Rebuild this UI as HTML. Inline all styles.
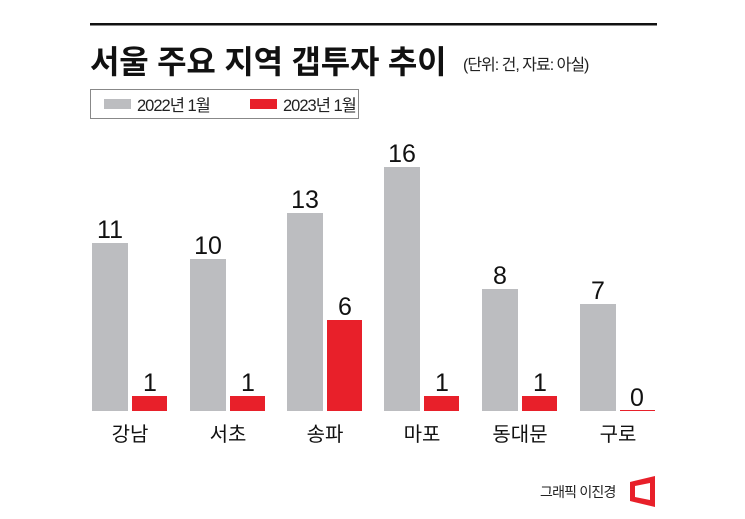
<!DOCTYPE html>
<html><head><meta charset="utf-8"><style>
body{margin:0;width:745px;height:514px;background:#fff;overflow:hidden;font-family:"Liberation Sans","Noto Sans CJK KR",sans-serif;}
</style></head><body>
<svg width="745" height="514" viewBox="0 0 745 514" xmlns="http://www.w3.org/2000/svg" font-family="Liberation Sans, Noto Sans CJK KR, sans-serif">
<rect x="90" y="23" width="567" height="2.5" fill="#111"/>
<text x="90" y="73" font-size="32" font-weight="bold" fill="#111" letter-spacing="-0.2">서울 주요 지역 갭투자 추이</text>
<text x="463" y="70" font-size="16" fill="#222" letter-spacing="-1">(단위: 건, 자료: 아실)</text>
<rect x="90.5" y="89.5" width="268" height="29" fill="#fff" stroke="#888"/>
<rect x="104" y="99" width="27" height="10" fill="#bcbdc0"/>
<text x="137" y="111" font-size="16.5" fill="#222" letter-spacing="-1">2022년 1월</text>
<rect x="250" y="99" width="27" height="10" fill="#e8202a"/>
<text x="283" y="111" font-size="16.5" fill="#222" letter-spacing="-1">2023년 1월</text>
<g fill="#bcbdc0">
<rect x="92" y="243" width="36" height="168"/>
<rect x="190" y="259" width="36" height="152"/>
<rect x="287" y="213" width="36" height="198"/>
<rect x="384" y="167" width="36" height="244"/>
<rect x="482" y="289" width="36" height="122"/>
<rect x="580" y="304" width="36" height="107"/>
</g>
<g fill="#e8202a">
<rect x="132" y="396" width="35" height="15"/>
<rect x="230" y="396" width="35" height="15"/>
<rect x="327" y="320" width="35" height="91"/>
<rect x="424" y="396" width="35" height="15"/>
<rect x="522" y="396" width="35" height="15"/>
<rect x="620" y="410" width="35" height="1"/>
</g>
<g font-size="25" fill="#111" text-anchor="middle">
<text x="110" y="238">11</text><text x="208" y="254">10</text><text x="305" y="208">13</text>
<text x="402" y="162">16</text><text x="500" y="284">8</text><text x="598" y="299">7</text>
<text x="150" y="391">1</text><text x="248" y="391">1</text><text x="345" y="315">6</text>
<text x="442" y="391">1</text><text x="540" y="391">1</text><text x="637" y="406">0</text>
</g>
<g font-size="20" fill="#111" text-anchor="middle">
<text x="130" y="441">강남</text><text x="228" y="441">서초</text><text x="325" y="441">송파</text>
<text x="422" y="441">마포</text><text x="520" y="441">동대문</text><text x="618" y="441">구로</text>
</g>
<text x="540" y="497" font-size="14" fill="#222" letter-spacing="-0.8">그래픽 이진경</text>
<path d="M630 482 L655 476 L655 507 L630 501 Z M635 486 L650 483 L650 500 L635 497 Z" fill="#e8202a" fill-rule="evenodd"/>
</svg>
</body></html>
